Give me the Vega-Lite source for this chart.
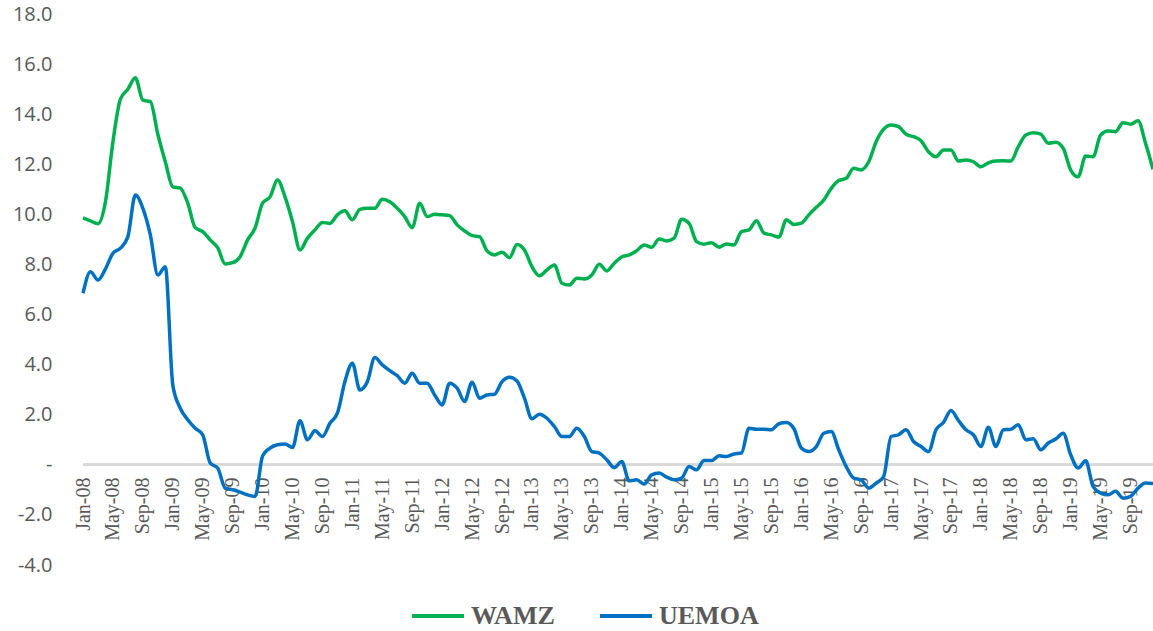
{
  "$schema": "https://vega.github.io/schema/vega-lite/v6.json",
  "usermeta": {"embedOptions": {"actions": false}},
  "autosize": "none",
  "width": 1070,
  "height": 551,
  "padding": {"left": 83, "top": 14, "right": 0, "bottom": 66},
  "background": "white",
  "config": {"view": {"stroke": null}},
  "data": {"values": [
    {"m":"Jan-08","WAMZ":9.86,"UEMOA":6.85},{"m":"Feb-08","WAMZ":9.74,"UEMOA":7.71},{"m":"Mar-08","WAMZ":9.63,"UEMOA":7.38},{"m":"Apr-08","WAMZ":10.5,"UEMOA":7.82},
    {"m":"May-08","WAMZ":12.9,"UEMOA":8.45},{"m":"Jun-08","WAMZ":14.6,"UEMOA":8.65},{"m":"Jul-08","WAMZ":15.0,"UEMOA":9.11},{"m":"Aug-08","WAMZ":15.45,"UEMOA":10.77},
    {"m":"Sep-08","WAMZ":14.56,"UEMOA":10.24},{"m":"Oct-08","WAMZ":14.5,"UEMOA":9.18},{"m":"Nov-08","WAMZ":13.2,"UEMOA":7.58},{"m":"Dec-08","WAMZ":12.1,"UEMOA":7.91},
    {"m":"Jan-09","WAMZ":11.1,"UEMOA":3.19},{"m":"Feb-09","WAMZ":11.05,"UEMOA":2.26},{"m":"Mar-09","WAMZ":10.45,"UEMOA":1.8},{"m":"Apr-09","WAMZ":9.47,"UEMOA":1.46},
    {"m":"May-09","WAMZ":9.31,"UEMOA":1.2},{"m":"Jun-09","WAMZ":8.98,"UEMOA":0.07},{"m":"Jul-09","WAMZ":8.67,"UEMOA":-0.13},{"m":"Aug-09","WAMZ":8.02,"UEMOA":-0.93},
    {"m":"Sep-09","WAMZ":8.07,"UEMOA":-1.0},{"m":"Oct-09","WAMZ":8.31,"UEMOA":-1.09},{"m":"Nov-09","WAMZ":8.98,"UEMOA":-1.2},{"m":"Dec-09","WAMZ":9.46,"UEMOA":-1.26},
    {"m":"Jan-10","WAMZ":10.45,"UEMOA":0.35},{"m":"Feb-10","WAMZ":10.7,"UEMOA":0.67},{"m":"Mar-10","WAMZ":11.37,"UEMOA":0.8},{"m":"Apr-10","WAMZ":10.7,"UEMOA":0.83},
    {"m":"May-10","WAMZ":9.71,"UEMOA":0.69},{"m":"Jun-10","WAMZ":8.58,"UEMOA":1.76},{"m":"Jul-10","WAMZ":9.05,"UEMOA":1.0},{"m":"Aug-10","WAMZ":9.38,"UEMOA":1.36},
    {"m":"Sep-10","WAMZ":9.68,"UEMOA":1.13},{"m":"Oct-10","WAMZ":9.64,"UEMOA":1.66},{"m":"Nov-10","WAMZ":9.98,"UEMOA":2.06},{"m":"Dec-10","WAMZ":10.14,"UEMOA":3.32},
    {"m":"Jan-11","WAMZ":9.78,"UEMOA":4.06},{"m":"Feb-11","WAMZ":10.2,"UEMOA":2.99},{"m":"Mar-11","WAMZ":10.24,"UEMOA":3.32},{"m":"Apr-11","WAMZ":10.24,"UEMOA":4.28},
    {"m":"May-11","WAMZ":10.6,"UEMOA":3.99},{"m":"Jun-11","WAMZ":10.5,"UEMOA":3.76},{"m":"Jul-11","WAMZ":10.24,"UEMOA":3.56},{"m":"Aug-11","WAMZ":9.91,"UEMOA":3.26},
    {"m":"Sep-11","WAMZ":9.47,"UEMOA":3.66},{"m":"Oct-11","WAMZ":10.44,"UEMOA":3.26},{"m":"Nov-11","WAMZ":9.91,"UEMOA":3.26},{"m":"Dec-11","WAMZ":10.0,"UEMOA":2.79},
    {"m":"Jan-12","WAMZ":9.98,"UEMOA":2.39},{"m":"Feb-12","WAMZ":9.95,"UEMOA":3.26},{"m":"Mar-12","WAMZ":9.58,"UEMOA":3.06},{"m":"Apr-12","WAMZ":9.34,"UEMOA":2.53},
    {"m":"May-12","WAMZ":9.15,"UEMOA":3.3},{"m":"Jun-12","WAMZ":9.11,"UEMOA":2.66},{"m":"Jul-12","WAMZ":8.54,"UEMOA":2.79},{"m":"Aug-12","WAMZ":8.38,"UEMOA":2.82},
    {"m":"Sep-12","WAMZ":8.49,"UEMOA":3.32},{"m":"Oct-12","WAMZ":8.27,"UEMOA":3.5},{"m":"Nov-12","WAMZ":8.8,"UEMOA":3.35},{"m":"Dec-12","WAMZ":8.58,"UEMOA":2.66},
    {"m":"Jan-13","WAMZ":7.91,"UEMOA":1.84},{"m":"Feb-13","WAMZ":7.55,"UEMOA":2.02},{"m":"Mar-13","WAMZ":7.78,"UEMOA":1.86},{"m":"Apr-13","WAMZ":7.98,"UEMOA":1.53},
    {"m":"May-13","WAMZ":7.25,"UEMOA":1.13},{"m":"Jun-13","WAMZ":7.18,"UEMOA":1.13},{"m":"Jul-13","WAMZ":7.45,"UEMOA":1.46},{"m":"Aug-13","WAMZ":7.42,"UEMOA":1.13},
    {"m":"Sep-13","WAMZ":7.58,"UEMOA":0.53},{"m":"Oct-13","WAMZ":8.01,"UEMOA":0.47},{"m":"Nov-13","WAMZ":7.74,"UEMOA":0.2},{"m":"Dec-13","WAMZ":8.05,"UEMOA":-0.11},
    {"m":"Jan-14","WAMZ":8.3,"UEMOA":0.13},{"m":"Feb-14","WAMZ":8.38,"UEMOA":-0.64},{"m":"Mar-14","WAMZ":8.55,"UEMOA":-0.6},{"m":"Apr-14","WAMZ":8.78,"UEMOA":-0.77},
    {"m":"May-14","WAMZ":8.69,"UEMOA":-0.4},{"m":"Jun-14","WAMZ":9.02,"UEMOA":-0.33},{"m":"Jul-14","WAMZ":8.94,"UEMOA":-0.49},{"m":"Aug-14","WAMZ":9.05,"UEMOA":-0.6},
    {"m":"Sep-14","WAMZ":9.8,"UEMOA":-0.53},{"m":"Oct-14","WAMZ":9.64,"UEMOA":-0.07},{"m":"Nov-14","WAMZ":8.91,"UEMOA":-0.2},{"m":"Dec-14","WAMZ":8.81,"UEMOA":0.17},
    {"m":"Jan-15","WAMZ":8.87,"UEMOA":0.17},{"m":"Feb-15","WAMZ":8.69,"UEMOA":0.36},{"m":"Mar-15","WAMZ":8.82,"UEMOA":0.33},{"m":"Apr-15","WAMZ":8.78,"UEMOA":0.43},
    {"m":"May-15","WAMZ":9.31,"UEMOA":0.47},{"m":"Jun-15","WAMZ":9.38,"UEMOA":1.46},{"m":"Jul-15","WAMZ":9.75,"UEMOA":1.42},{"m":"Aug-15","WAMZ":9.25,"UEMOA":1.42},
    {"m":"Sep-15","WAMZ":9.18,"UEMOA":1.4},{"m":"Oct-15","WAMZ":9.09,"UEMOA":1.64},{"m":"Nov-15","WAMZ":9.78,"UEMOA":1.69},{"m":"Dec-15","WAMZ":9.6,"UEMOA":1.45},
    {"m":"Jan-16","WAMZ":9.65,"UEMOA":0.67},{"m":"Feb-16","WAMZ":9.98,"UEMOA":0.53},{"m":"Mar-16","WAMZ":10.28,"UEMOA":0.73},{"m":"Apr-16","WAMZ":10.57,"UEMOA":1.26},
    {"m":"May-16","WAMZ":11.04,"UEMOA":1.33},{"m":"Jun-16","WAMZ":11.35,"UEMOA":0.6},{"m":"Jul-16","WAMZ":11.44,"UEMOA":-0.07},{"m":"Aug-16","WAMZ":11.84,"UEMOA":-0.53},
    {"m":"Sep-16","WAMZ":11.77,"UEMOA":-0.6},{"m":"Oct-16","WAMZ":12.1,"UEMOA":-0.93},{"m":"Nov-16","WAMZ":12.9,"UEMOA":-0.73},{"m":"Dec-16","WAMZ":13.4,"UEMOA":-0.47},
    {"m":"Jan-17","WAMZ":13.57,"UEMOA":1.13},{"m":"Feb-17","WAMZ":13.5,"UEMOA":1.2},{"m":"Mar-17","WAMZ":13.2,"UEMOA":1.4},{"m":"Apr-17","WAMZ":13.1,"UEMOA":0.93},
    {"m":"May-17","WAMZ":12.94,"UEMOA":0.73},{"m":"Jun-17","WAMZ":12.5,"UEMOA":0.53},{"m":"Jul-17","WAMZ":12.3,"UEMOA":1.4},{"m":"Aug-17","WAMZ":12.57,"UEMOA":1.69},
    {"m":"Sep-17","WAMZ":12.57,"UEMOA":2.17},{"m":"Oct-17","WAMZ":12.13,"UEMOA":1.77},{"m":"Nov-17","WAMZ":12.17,"UEMOA":1.4},{"m":"Dec-17","WAMZ":12.1,"UEMOA":1.2},
    {"m":"Jan-18","WAMZ":11.9,"UEMOA":0.73},{"m":"Feb-18","WAMZ":12.06,"UEMOA":1.5},{"m":"Mar-18","WAMZ":12.13,"UEMOA":0.73},{"m":"Apr-18","WAMZ":12.14,"UEMOA":1.4},
    {"m":"May-18","WAMZ":12.13,"UEMOA":1.42},{"m":"Jun-18","WAMZ":12.7,"UEMOA":1.6},{"m":"Jul-18","WAMZ":13.17,"UEMOA":1.0},{"m":"Aug-18","WAMZ":13.26,"UEMOA":1.04},
    {"m":"Sep-18","WAMZ":13.2,"UEMOA":0.6},{"m":"Oct-18","WAMZ":12.84,"UEMOA":0.87},{"m":"Nov-18","WAMZ":12.88,"UEMOA":1.03},{"m":"Dec-18","WAMZ":12.64,"UEMOA":1.26},
    {"m":"Jan-19","WAMZ":11.77,"UEMOA":0.4},{"m":"Feb-19","WAMZ":11.5,"UEMOA":-0.13},{"m":"Mar-19","WAMZ":12.33,"UEMOA":0.16},{"m":"Apr-19","WAMZ":12.3,"UEMOA":-0.87},
    {"m":"May-19","WAMZ":13.17,"UEMOA":-1.13},{"m":"Jun-19","WAMZ":13.33,"UEMOA":-1.2},{"m":"Jul-19","WAMZ":13.3,"UEMOA":-1.06},{"m":"Aug-19","WAMZ":13.66,"UEMOA":-1.33},
    {"m":"Sep-19","WAMZ":13.6,"UEMOA":-1.26},{"m":"Oct-19","WAMZ":13.74,"UEMOA":-0.93},{"m":"Nov-19","WAMZ":12.84,"UEMOA":-0.73},{"m":"Dec-19","WAMZ":11.8,"UEMOA":-0.75}
  ]},
  "layer": [
    {
      "mark": {"type": "rule", "color": "#d9d9d9", "strokeWidth": 2},
      "encoding": {"y": {"datum": 0, "type": "quantitative", "scale": {"domain": [-4, 18], "nice": false}}}
    },
    {
      "transform": [{"fold": ["WAMZ", "UEMOA"], "as": ["series", "value"]}],
      "mark": {"type": "line", "strokeWidth": 3.5, "interpolate": "monotone"},
      "encoding": {
        "x": {
          "field": "m", "type": "ordinal", "sort": null,
          "scale": {"type": "point", "padding": 0},
          "axis": {
            "title": null, "domain": false, "ticks": false, "grid": false,
            "offset": -100, "labelPadding": 12, "labelAngle": 270,
            "labelFont": "Liberation Serif", "labelFontSize": 20, "labelColor": "#595959",
            "labelOverlap": false, "labelBound": false,
            "values": ["Jan-08","May-08","Sep-08","Jan-09","May-09","Sep-09","Jan-10","May-10","Sep-10","Jan-11","May-11","Sep-11","Jan-12","May-12","Sep-12","Jan-13","May-13","Sep-13","Jan-14","May-14","Sep-14","Jan-15","May-15","Sep-15","Jan-16","May-16","Sep-16","Jan-17","May-17","Sep-17","Jan-18","May-18","Sep-18","Jan-19","May-19","Sep-19"]
          }
        },
        "y": {
          "field": "value", "type": "quantitative",
          "scale": {"domain": [-4, 18], "nice": false, "zero": false},
          "axis": {
            "title": null, "domain": false, "ticks": false, "grid": false,
            "values": [-4, -2, 0, 2, 4, 6, 8, 10, 12, 14, 16, 18],
            "labelExpr": "datum.value == 0 ? '-\u00a0\u00a0' : (datum.value < 0 ? '-' + format(-datum.value, '.1f') : format(datum.value, '.1f'))",
            "labelFont": "Open Sans", "labelFontSize": 20, "labelColor": "#595959", "labelPadding": 31
          }
        },
        "color": {
          "field": "series", "type": "nominal",
          "scale": {"domain": ["WAMZ", "UEMOA"], "range": ["#00B050", "#0070C0"]},
          "legend": {
            "title": null, "orient": "none", "legendX": 327, "legendY": 574, "direction": "horizontal",
            "symbolType": "stroke", "symbolSize": 2704, "symbolStrokeWidth": 4,
            "labelFont": "Liberation Serif", "labelFontWeight": "bold", "labelFontSize": 26, "labelColor": "#595959",
            "labelOffset": 5, "columnPadding": 37, "labelLimit": 300
          }
        }
      }
    }
  ]
}
